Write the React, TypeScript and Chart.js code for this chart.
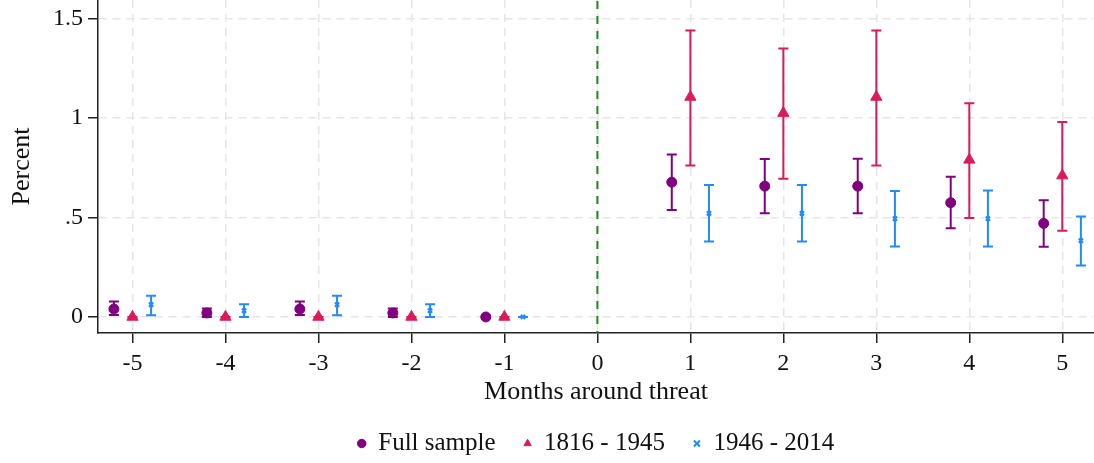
import React, { useEffect, useRef } from "react";
import { Chart, registerables } from "chart.js";

Chart.register(...registerables);

// ---- data ----
const months = [-5, -4, -3, -2, -1, 1, 2, 3, 4, 5];
const xTickValues = [-5, -4, -3, -2, -1, 0, 1, 2, 3, 4, 5];
const yTickValues = [0, 0.5, 1, 1.5];

const seriesNames = ["Full sample", "1816 - 1945", "1946 - 2014"];
const seriesOffsets = [-0.2, 0, 0.2];

const fullEst = [0.04, 0.02, 0.04, 0.02, 0.0, 0.677, 0.657, 0.657, 0.574, 0.47];
const fullLo = [0.01, 0.0, 0.01, 0.0, 0.0, 0.537, 0.521, 0.521, 0.445, 0.353];
const fullHi = [0.077, 0.042, 0.077, 0.042, 0.0, 0.816, 0.793, 0.795, 0.704, 0.586];

const earlyEst = [0, 0, 0, 0, 0, 1.105, 1.024, 1.105, 0.789, 0.71];
const earlyLo = [0, 0, 0, 0, 0, 0.761, 0.694, 0.761, 0.497, 0.433];
const earlyHi = [0, 0, 0, 0, 0, 1.439, 1.348, 1.439, 1.073, 0.979];

const lateEst = [0.062, 0.032, 0.062, 0.032, 0, 0.52, 0.52, 0.494, 0.494, 0.383];
const lateLo = [0.009, 0.0, 0.009, 0.0, 0, 0.379, 0.379, 0.354, 0.354, 0.258];
const lateHi = [0.107, 0.064, 0.107, 0.064, 0, 0.663, 0.663, 0.633, 0.635, 0.504];

const FAMILY = "'Liberation Serif', serif";
const TICK_FONT = { family: FAMILY, size: 24 };
const TITLE_FONT = { family: FAMILY, size: 26 };
const LEGEND_FONT = { family: FAMILY, size: 25 };
const TEXT = "#111111";

function buildPoints(est: number[], lo: number[], hi: number[], offset: number) {
  return months.map((m, i) => ({ x: m + offset, y: est[i], lo: lo[i], hi: hi[i] }));
}

const errorBarPlugin = {
  id: "errorBars",
  beforeDatasetsDraw(chart: any) {
    const { ctx, scales } = chart;
    const xs = scales.x;
    const ys = scales.y;
    chart.data.datasets.forEach((ds: any, i: number) => {
      const meta = chart.getDatasetMeta(i);
      if (meta.hidden) return;
      ctx.save();
      ctx.strokeStyle = ds.borderColor;
      ctx.lineWidth = 2;
      ds.data.forEach((p: any) => {
        const px = xs.getPixelForValue(p.x);
        const yl = ys.getPixelForValue(p.lo);
        const yh = ys.getPixelForValue(p.hi);
        ctx.beginPath();
        ctx.moveTo(px, yl);
        ctx.lineTo(px, yh);
        ctx.moveTo(px - 5, yl);
        ctx.lineTo(px + 5, yl);
        ctx.moveTo(px - 5, yh);
        ctx.lineTo(px + 5, yh);
        ctx.stroke();
      });
      ctx.restore();
    });
  },
};

const zeroLinePlugin = {
  id: "zeroLine",
  beforeDatasetsDraw(chart: any) {
    const { ctx, chartArea, scales } = chart;
    const px = scales.x.getPixelForValue(0);
    ctx.save();
    ctx.strokeStyle = "#1a8a1a";
    ctx.lineWidth = 2;
    ctx.setLineDash([8, 7]);
    ctx.beginPath();
    ctx.moveTo(px, chartArea.top + 1);
    ctx.lineTo(px, chartArea.bottom);
    ctx.stroke();
    ctx.restore();
  },
};

export default function App() {
  const canvasRef = useRef<HTMLCanvasElement | null>(null);

  useEffect(() => {
    if (!canvasRef.current) return;
    const gridCommon = {
      color: "#e6e6e6",
      lineWidth: 1.5,
      tickLength: 10,
      tickColor: "#222222",
      tickWidth: 1.5,
      tickBorderDash: [],
    };
    const borderCommon = { color: "#222222", width: 1.5, dash: [8, 6] };

    const chart = new Chart(canvasRef.current, {
      type: "scatter",
      data: {
        datasets: [
          {
            label: seriesNames[0],
            data: buildPoints(fullEst, fullLo, fullHi, seriesOffsets[0]),
            backgroundColor: "#800080",
            borderColor: "#800080",
            pointStyle: "circle",
            pointRadius: 5,
            borderWidth: 1,
          },
          {
            label: seriesNames[1],
            data: buildPoints(earlyEst, earlyLo, earlyHi, seriesOffsets[1]),
            backgroundColor: "#dc1a5a",
            borderColor: "#dc1a5a",
            pointStyle: "triangle",
            pointRadius: 6.5,
            borderWidth: 1,
          },
          {
            label: seriesNames[2],
            data: buildPoints(lateEst, lateLo, lateHi, seriesOffsets[2]),
            backgroundColor: "#1e8cff",
            borderColor: "#1e8cff",
            pointStyle: "crossRot",
            pointRadius: 3,
            borderWidth: 2,
          },
        ],
      } as any,
      options: {
        responsive: false,
        maintainAspectRatio: false,
        animation: false,
        events: [],
        layout: { autoPadding: false, padding: { top: 0, left: 0, right: 0, bottom: -3 } },
        plugins: {
          tooltip: { enabled: false },
          legend: {
            position: "bottom",
            fullSize: false,
            labels: {
              usePointStyle: true,
              boxWidth: 8,
              boxHeight: 6,
              padding: 28,
              font: LEGEND_FONT,
              color: TEXT,
            },
          },
        },
        scales: {
          x: {
            type: "linear",
            min: -5.371,
            max: 5.341,
            afterBuildTicks: (s: any) => {
              s.ticks = xTickValues.map((v) => ({ value: v }));
            },
            afterFit: (s: any) => {
              s.height = 70;
              s.paddingLeft = 0;
              s.paddingRight = 0;
            },
            ticks: {
              font: TICK_FONT,
              color: TEXT,
              padding: 6,
              maxRotation: 0,
              autoSkip: false,
              callback: (v: any) => String(v),
            },
            grid: gridCommon,
            border: borderCommon,
            title: {
              display: true,
              text: "Months around threat",
              font: TITLE_FONT,
              color: TEXT,
              padding: { top: 0, bottom: -5 },
            },
          },
          y: {
            type: "linear",
            min: -0.0806,
            max: 1.592,
            afterBuildTicks: (s: any) => {
              s.ticks = yTickValues.map((v) => ({ value: v }));
            },
            afterFit: (s: any) => {
              s.width = 98;
              s.paddingTop = 0;
              s.paddingBottom = 0;
            },
            ticks: {
              font: TICK_FONT,
              color: TEXT,
              padding: 5,
              callback: (v: any) => (v === 0 ? "0" : String(v).replace(/^0\./, ".")),
            },
            grid: gridCommon,
            border: borderCommon,
            title: {
              display: true,
              text: "Percent",
              font: TITLE_FONT,
              color: TEXT,
              padding: { top: 7, bottom: 0 },
            },
          },
        },
      } as any,
      plugins: [zeroLinePlugin, errorBarPlugin],
    });
    return () => chart.destroy();
  }, []);

  return (
    <div style={{ position: "absolute", left: 0, top: 0, width: 1094, height: 463, background: "#fff" }}>
      <canvas ref={canvasRef} width={1094} height={463} style={{ display: "block" }} />
    </div>
  );
}
